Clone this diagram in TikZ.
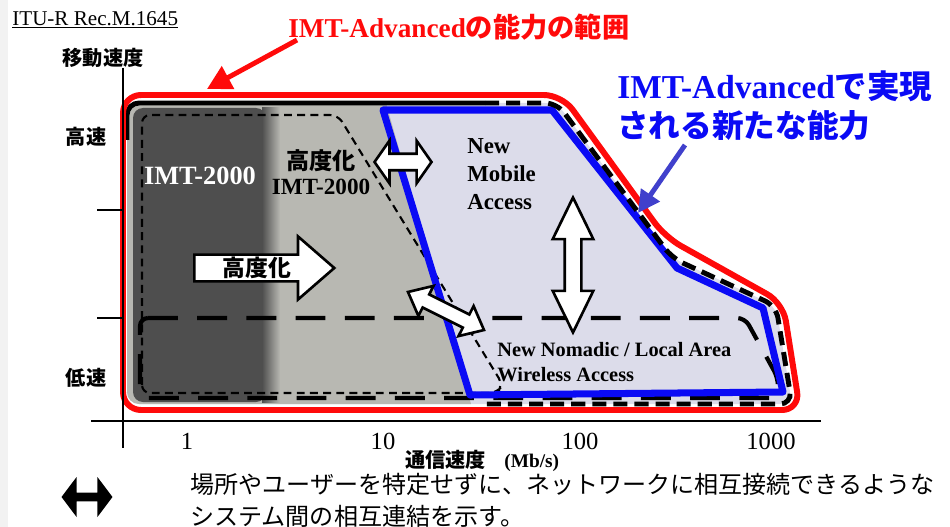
\documentclass[tikz,border=0pt]{standalone}
\usepackage{fontspec}
\setmainfont{Liberation Serif}
\newfontfamily\jp{Noto Sans CJK JP}
\usetikzlibrary{shapes.arrows,arrows.meta}

\definecolor{lightgrey}{HTML}{B8B8B2}
\definecolor{darkband}{HTML}{4E4E4E}
\definecolor{newarea}{HTML}{DCDCEA}
\definecolor{advblue}{HTML}{0A0AF5}
\definecolor{pointblue}{HTML}{4040CC}
\definecolor{advred}{HTML}{FF0A0A}

\tikzset{%
  % Specifications for style of nodes:
        jpbold/.style = {inner sep=0pt, font=\jp\bfseries\fontsize{11.5}{14}\selectfont},
       ticklbl/.style = {inner sep=0pt, font=\fontsize{14}{16}\selectfont},
      areatext/.style = {inner sep=0pt, align=left, font=\bfseries\fontsize{13}{16}\selectfont},
     openarrow/.style = {double arrow, draw=black, fill=white, line width=1.5pt, inner xsep=0pt, inner ysep=0.14cm},
  % Specifications for style of lines:
        axline/.style = {line width=1.3pt},
      thindash/.style = {line width=1.2pt, dash pattern=on 4.5pt off 3pt, rounded corners=0.16cm},
      longdash/.style = {line width=2.4pt, dash pattern=on 17pt off 11pt, rounded corners=0.16cm},
}

\begin{document}
\begin{tikzpicture}[x=0.02cm, y=-0.02cm]
    \useasboundingbox (0,0) rectangle (950,527);
    \fill[gray!10] (0,0) rectangle (8,527);

    % Draw areas
    \fill[newarea, rounded corners=0.24cm] (127,103) -- (557,103) -- (672,258) -- (776,306) -- (792,404) -- (127,404) -- cycle;
    \fill[lightgrey] (386,103) -- (471,404) [rounded corners=0.24cm] -- (127,404) -- (127,103) [sharp corners] -- cycle;
    \fill[darkband, rounded corners=0.2cm] (133,108) rectangle (266,402);
    \shade[left color=darkband, right color=lightgrey] (262,108) rectangle (280,402);

    % Draw boundaries
    \draw[thindash] (142,393) -- (142,115) -- (338,115) -- (503,385) -- (497,393) -- cycle;
    \draw[longdash] (140,318) -- (745,318) -- (778,378) -- (778,398) -- (140,398) -- cycle;
    \draw[advblue, line width=4pt, line join=round] (383,110) -- (552,110) -- (677,268) -- (763,308) -- (783,392) -- (470,395) -- cycle;
    \draw[line width=2.8pt, rounded corners=0.24cm] (127,140) -- (127,103) -- (485,103);
    \draw[line width=2.8pt, dash pattern=on 8pt off 4pt, rounded corners=0.24cm] (485,103) -- (557,103) -- (672,258) -- (776,306) -- (792,404) -- (480,404);
    \draw[advred, line width=3.4pt, rounded corners=0.36cm] (123,95) -- (562,95) -- (665,237) -- (783,303) -- (800,410) -- (123,410) -- cycle;

    % Draw axes
    \draw[axline] (123,68) -- (123,448);
    \draw[axline] (91,421) -- (821,421);
    \draw[axline] (97,210) -- (123,210);
    \draw[axline] (97,318) -- (123,318);

    % Draw block arrows
    \node (upgrade)  [single arrow, draw=black, fill=white, line width=1.5pt, inner sep=0pt,
                      minimum height=2.8cm, minimum width=1.26cm, single arrow head extend=0.33cm,
                      single arrow tip angle=82, anchor=tail, font=\jp\bfseries\fontsize{13}{15}\selectfont]
                      at (193,268) {高度化};
    \node (hlink)    [openarrow, minimum height=1.14cm, minimum width=0.8cm,
                      double arrow head extend=0.26cm, double arrow tip angle=110] at (403,162) {};
    \node (vlink)    [openarrow, minimum height=2.7cm, minimum width=0.76cm, rotate=90,
                      double arrow head extend=0.24cm, double arrow tip angle=52] at (573,265) {};
    \node (dlink)    [openarrow, minimum height=1.7cm, minimum width=0.66cm, rotate=-26.6,
                      double arrow head extend=0.19cm, double arrow tip angle=80, inner ysep=0.12cm] at (446,311) {};

    % Draw texts
    \node (itu)      [anchor=west, inner sep=0pt, font=\fontsize{12}{14}\selectfont] at (12,20) {\underline{ITU-R Rec.M.1645}};
    \node (speedax)  [jpbold] at (103,58) {移動速度};
    \node (high)     [jpbold] at (86,137) {高速};
    \node (low)      [jpbold] at (86,378) {低速};
    \node (imt)      [inner sep=0pt, text=white, font=\bfseries\fontsize{15}{17}\selectfont] at (200,176) {IMT-2000};
    \node (enhanced) [inner sep=0pt, align=center, font=\bfseries\fontsize{13.2}{14.5}\selectfont] at (321,172)
                      {{\jp 高度化}\\IMT-2000};
    \node (mobile)   [areatext, anchor=north west] at (467,138) {New\\Mobile\\Access};
    \node (nomadic)  [areatext, anchor=north west, font=\bfseries\fontsize{11.6}{14.2}\selectfont] at (497,342)
                      {New Nomadic / Local Area\\Wireless Access};

    \node (t1)       [ticklbl] at (187,441) {1};
    \node (t10)      [ticklbl] at (383,441) {10};
    \node (t100)     [ticklbl] at (580,441) {100};
    \node (t1000)    [ticklbl] at (771,441) {1000};
    \node (rate)     [jpbold, anchor=base west] at (405,467) {通信速度};
    \node (unit)     [inner sep=0pt, anchor=base west, font=\bfseries\fontsize{11}{13}\selectfont] at (504,467) {(Mb/s)};

    % Draw callouts
    \node (redlbl)   [inner sep=0pt, anchor=west, text=advred, font=\bfseries\fontsize{15.5}{18}\selectfont]
                      at (288,27) {IMT-Advanced{\jp の能力の範囲}};
    \node (bluelbl)  [inner sep=0pt, anchor=west, align=left, text=advblue, font=\bfseries\fontsize{19}{22}\selectfont]
                      at (617,106) {IMT-Advanced{\jp\fontsize{18.5}{22}\selectfont で実現}\\{\jp\fontsize{18}{22}\selectfont される新たな能力}};
    \coordinate (redtail)  at (297,40);
    \coordinate (redtip)   at (207,89);
    \coordinate (bluetail) at (685,145);
    \coordinate (bluetip)  at (638,213);
    \draw[advred, line width=2.8pt, -{Triangle[length=0.48cm, width=0.5cm]}] (redtail) -- (redtip);
    \draw[pointblue, line width=2.8pt, -{Triangle[length=0.44cm, width=0.44cm]}] (bluetail) -- (bluetip);

    % Draw legend
    \node (legarrow) [double arrow, fill=black, inner xsep=0pt, inner ysep=0.075cm, minimum height=1.02cm, minimum width=0.8cm,
                      double arrow head extend=0.3cm, double arrow tip angle=106] at (87,497) {};
    \node (legtext)  [inner sep=0pt, anchor=west, align=left, font=\jp\fontsize{13.7}{18.2}\selectfont] at (190,500)
                      {場所やユーザーを特定せずに、ネットワークに相互接続できるような\\システム間の相互連結を示す。};

\end{tikzpicture}
\end{document}
